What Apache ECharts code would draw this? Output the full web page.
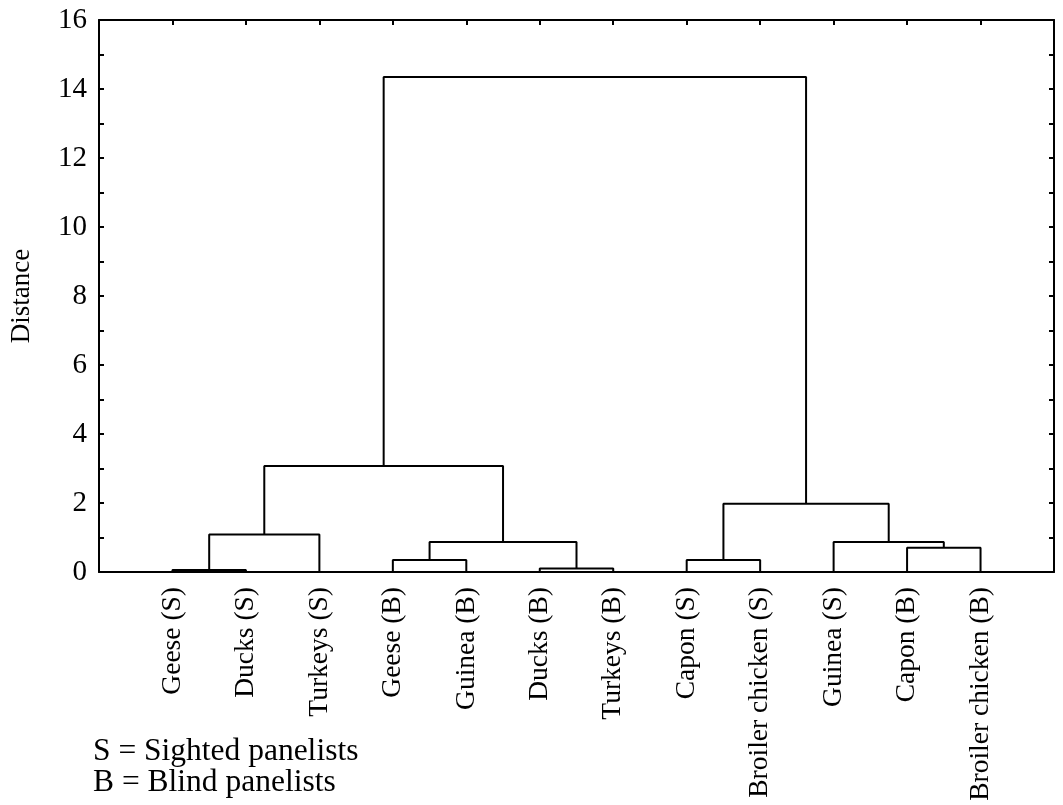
<!DOCTYPE html>
<html>
<head>
<meta charset="utf-8">
<script src="https://cdn.jsdelivr.net/npm/echarts@6/dist/echarts.min.js"></script>
<style>
html,body{margin:0;padding:0;background:#fff;}
#chart{width:1063px;height:805px;}
</style>
</head>
<body>
<div id="chart"></div>
<script>
// Leaves (left to right)
const leaves = ['Geese (S)', 'Ducks (S)', 'Turkeys (S)', 'Geese (B)', 'Guinea (B)', 'Ducks (B)', 'Turkeys (B)', 'Capon (S)', 'Broiler chicken (S)', 'Guinea (S)', 'Capon (B)', 'Broiler chicken (B)'];
// Merges: node ids 0..11 are leaves, merge k gets id 12+k
const mergeLeft  = [0, 12, 3, 5, 14, 13, 7, 10, 9, 18, 17];
const mergeRight = [1, 2, 4, 6, 15, 16, 8, 11, 19, 20, 21];
const mergeHeight = [0.06, 1.09, 0.35, 0.10, 0.87, 3.07, 0.35, 0.70, 0.87, 1.98, 14.35];
const yTicks = [0, 2, 4, 6, 8, 10, 12, 14, 16];
const notes = ['S = Sighted panelists', 'B = Blind panelists'];

const FONT = 'Liberation Serif';
const nodeX = [], nodeH = [];
leaves.forEach((l, i) => { nodeX[i] = i + 1; nodeH[i] = 0; });
const series = [];
mergeHeight.forEach((h, k) => {
  const a = mergeLeft[k], b = mergeRight[k];
  const id = leaves.length + k;
  nodeX[id] = (nodeX[a] + nodeX[b]) / 2;
  nodeH[id] = h;
  series.push({
    type: 'line',
    xAxisIndex: 0, yAxisIndex: 0,
    symbol: 'none',
    silent: true,
    lineStyle: { color: '#000', width: 2 },
    data: [[nodeX[a], nodeH[a]], [nodeX[a], h], [nodeX[b], h], [nodeX[b], nodeH[b]]]
  });
});

const chart = echarts.init(document.getElementById('chart'));
const axisLine = { show: true, onZero: false, lineStyle: { color: '#000', width: 2 } };
chart.setOption({
  animation: false,
  backgroundColor: '#fff',
  grid: { left: 98, right: 9, top: 20, bottom: 233 },
  xAxis: [{
    type: 'value', min: 0, max: leaves.length + 1, interval: 1, position: 'bottom',
    axisLine: axisLine, axisTick: { show: false }, splitLine: { show: false },
    axisLabel: {
      rotate: 90, margin: 15, color: '#000', fontFamily: FONT, fontSize: 27.5,
      formatter: v => leaves[v - 1] || ''
    }
  }, {
    type: 'value', min: 0, max: leaves.length + 1, interval: 1, position: 'top',
    axisLine: axisLine, splitLine: { show: false },
    axisTick: { show: true, inside: true, length: 5, lineStyle: { color: '#000', width: 2 } },
    axisLabel: { show: false }
  }],
  yAxis: [{
    type: 'value', min: 0, max: 16, interval: 1, position: 'left',
    axisLine: axisLine, splitLine: { show: false },
    axisTick: { show: true, inside: true, length: 5, lineStyle: { color: '#000', width: 2 } },
    axisLabel: {
      margin: 12, color: '#000', fontFamily: FONT, fontSize: 29,
      formatter: v => yTicks.indexOf(v) >= 0 ? String(v) : ''
    },
    name: 'Distance', nameLocation: 'middle', nameGap: 64,
    nameTextStyle: { color: '#000', fontFamily: FONT, fontSize: 27 }
  }, {
    type: 'value', min: 0, max: 16, interval: 1, position: 'right',
    axisLine: axisLine, splitLine: { show: false },
    axisTick: { show: true, inside: true, length: 5, lineStyle: { color: '#000', width: 2 } },
    axisLabel: { show: false }
  }],
  graphic: notes.map((t, i) => ({
    type: 'text', left: 93, top: 736 + i * 31,
    style: { text: t, font: '31.5px "Liberation Serif"', fill: '#000' }
  })),
  series: series
});
</script>
</body>
</html>
